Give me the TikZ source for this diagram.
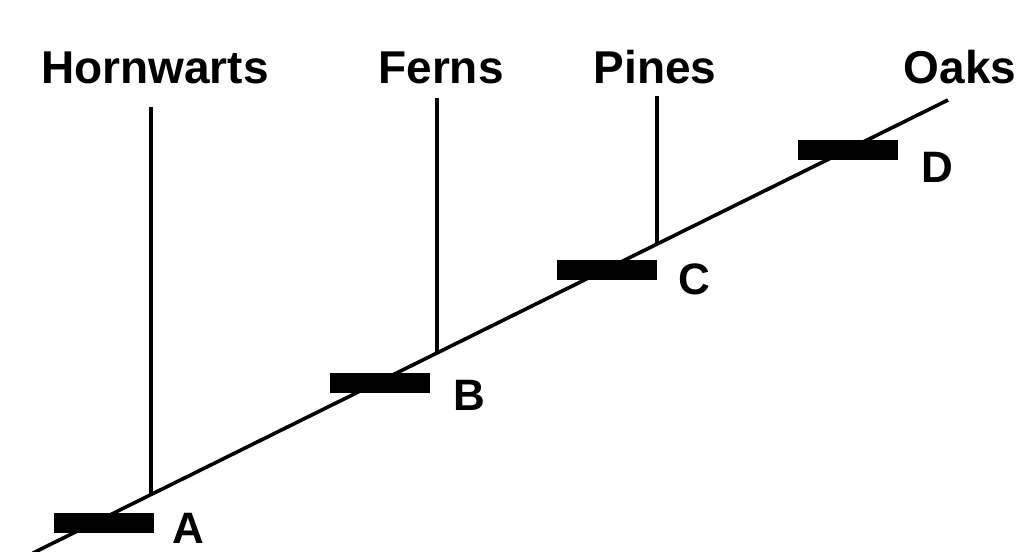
\documentclass[tikz,border=0pt]{standalone}
\usepackage{fontspec}
\setmainfont{Liberation Sans}
\begin{document}
\begin{tikzpicture}[x=1pt,y=-1pt,
  branch/.style={line width=3.6pt},
  trait/.style={fill=black, minimum width=100pt, minimum height=20pt, inner sep=0pt, draw=none},
  taxon/.style={font=\fontsize{46}{46}\selectfont\bfseries, anchor=base, inner sep=0pt},
  traitlabel/.style={font=\fontsize{44}{44}\selectfont\bfseries, inner sep=0pt}]
\useasboundingbox (0,0) rectangle (1019,551);
% diagonal
\coordinate (start) at (33,553);
\coordinate (tip) at (948,100);
\draw[branch] (start) -- (tip);
% junctions on diagonal
\coordinate (jH) at (151,495);
\coordinate (jF) at (437,354);
\coordinate (jP) at (657,245);
% labels
\node[taxon] (hornwarts) at (155,83) {Hornwarts};
\node[taxon] (ferns) at (441,83) {Ferns};
\node[taxon] (pines) at (655,83) {Pines};
\node[taxon] (oaks) at (960,83) {Oaks};
% vertical tops
\coordinate (tH) at (151,107);
\coordinate (tF) at (437,98);
\coordinate (tP) at (657,96);
\draw[branch] (tH) -- (jH);
\draw[branch] (tF) -- (jF);
\draw[branch] (tP) -- (jP);
% trait bars
\node[trait] (barA) at (104,523) {};
\node[trait] (barB) at (380,383) {};
\node[trait] (barC) at (607,270) {};
\node[trait] (barD) at (848,150) {};
% letters
\node[traitlabel] (A) at (188,528) {A};
\node[traitlabel] (B) at (469,395) {B};
\node[traitlabel] (C) at (694,279) {C};
\node[traitlabel] (D) at (937,167) {D};
\end{tikzpicture}
\end{document}
